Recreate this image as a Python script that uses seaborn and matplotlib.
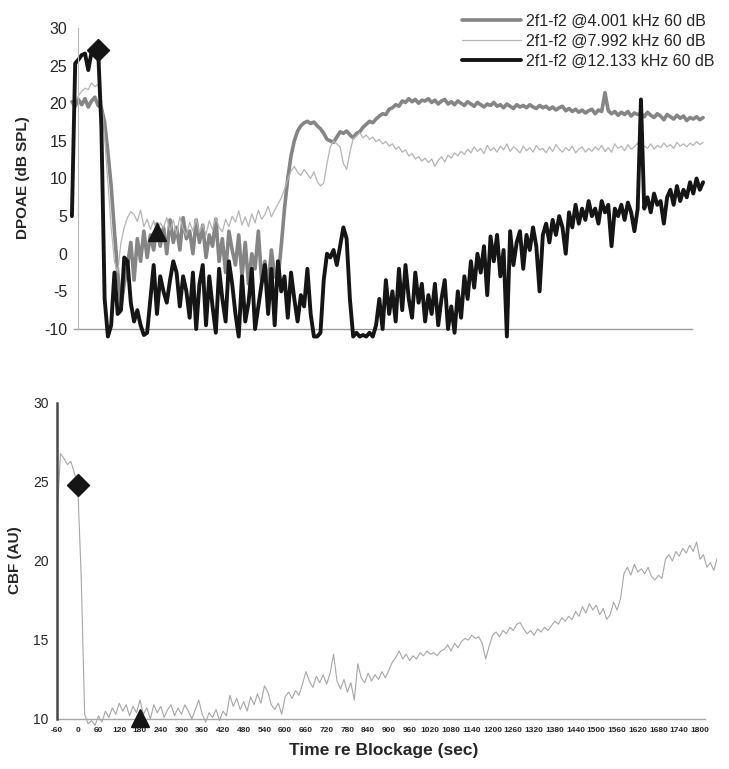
import numpy as np
import pandas as pd
import matplotlib
matplotlib.use("Agg")
import matplotlib.pyplot as plt
import seaborn as sns

# ---------------- data ----------------
# top panel sample times (s re blockage)
t_top = np.arange(-80, 1851, 10)

dp_4k = [
    20.2, 19.6, 20.5, 19.8, 20.6, 19.5, 20.3, 20.8, 19.7, 19.4,
    17.5, 13.5, 9.0, 3.0, -2.5, -7.0, -4.0, -1.5, 1.5, -3.5,
    2.0, -1.0, 3.0, -0.5, 2.5, 0.5, 4.0, 1.0, 3.5, 0.0,
    4.5, 1.5, 3.5, 0.5, 4.8, 2.0, 3.0, 0.0, 4.5, 1.5,
    3.8, -0.5, 2.5, 1.0, 4.6, -1.0, 2.0, -2.5, 3.0, 0.5,
    -1.5, 2.5, -3.0, 1.5, -4.0, 0.0, -2.0, 3.0, -3.5, -1.0,
    -4.5, 0.5, -3.0, -3.5, 1.0, 6.0, 10.0, 13.0, 15.0, 16.3,
    17.0, 17.4, 17.6, 17.3, 17.5, 17.0, 16.6, 16.0, 15.2, 15.0,
    14.8, 15.5, 16.2, 16.0, 16.3, 15.8, 15.4, 16.0, 16.2, 16.8,
    17.2, 17.6, 17.4, 17.9, 18.3, 18.6, 18.5, 19.2, 19.4, 19.8,
    19.6, 20.3, 20.1, 20.6, 20.2, 20.5, 20.0, 20.4, 20.3, 20.6,
    20.1, 20.4, 19.9, 20.3, 20.5, 19.9, 20.2, 19.8, 20.3, 20.0,
    19.7, 20.2, 19.9, 19.6, 20.1, 19.8, 19.5, 19.9, 19.7, 20.1,
    19.6, 19.8, 19.4, 19.9, 19.6, 19.3, 19.8, 19.5, 19.7, 19.4,
    19.8, 19.5, 19.3, 19.7, 19.4, 19.6, 19.2, 19.5, 19.1, 19.4,
    19.6, 19.0, 19.3, 18.9, 19.2, 18.8, 19.1, 18.7, 19.0, 19.2,
    18.6, 19.1, 18.9, 21.4, 19.0, 18.6, 18.9, 18.4, 18.8, 18.5,
    18.9, 18.3, 18.7, 18.5, 18.6, 18.2, 18.8, 18.4, 18.1, 18.6,
    18.3, 17.8, 18.5, 18.2, 17.9, 18.4, 18.0, 18.3, 17.7, 18.1,
    17.9, 18.2, 17.8, 18.1,
]

dp_8k = [
    19.8, 20.3, 21.0, 21.6, 22.0, 21.8, 22.7, 22.2, 22.5, 20.5,
    15.5, 9.5, 3.5, -1.0, -2.5, 1.5, 3.5, 4.8, 5.6, 5.2,
    4.3, 5.8, 3.6, 4.6, 3.2, 4.4, 2.8, 4.1, 3.4, 4.8,
    3.1, 4.5, 2.6, 4.9, 3.3, 2.4, 4.2, 3.0, 4.7, 2.8,
    3.9, 2.5, 4.4, 3.2, 4.8, 3.5, 2.9, 4.6, 3.6, 5.0,
    4.2, 5.7, 3.8, 4.9, 3.6, 5.3, 4.1, 5.8, 4.6, 5.2,
    6.3, 4.9, 5.8, 6.6, 7.4, 8.6, 9.8, 11.0, 11.6, 10.8,
    10.4, 11.2, 10.6, 10.0, 10.9, 9.6, 9.0, 9.4, 12.0, 14.2,
    15.0, 14.6, 14.2, 12.0, 11.2, 13.5, 15.3, 15.6, 16.1, 15.4,
    15.8, 15.2, 15.5, 14.9, 15.2, 14.6, 14.9, 14.3, 14.6, 13.9,
    14.2, 13.5, 13.8, 13.0, 13.3, 12.6, 12.9, 12.3, 12.7, 12.1,
    12.6, 11.6, 12.4, 12.9, 12.2, 13.1, 12.7, 13.4, 13.0, 13.6,
    13.2, 13.9, 13.4, 14.2, 13.6, 14.0, 13.3, 14.4, 13.7, 14.1,
    13.5, 14.3, 13.8, 14.6, 13.6, 14.2, 13.9, 13.4, 14.3, 13.7,
    14.1, 13.5, 14.4, 13.8, 14.0, 13.4, 14.2, 13.6, 14.5, 13.9,
    13.5, 14.1, 13.7, 14.3, 13.4, 13.9, 14.2, 13.5, 14.0, 13.6,
    14.2, 13.8, 14.4, 13.6, 14.1, 13.5, 14.6, 14.0, 14.3, 13.7,
    14.5, 13.9, 14.2, 14.7, 13.8, 14.3, 14.0, 14.6, 13.9, 14.4,
    14.1, 14.7, 14.2, 14.5, 14.0, 14.8, 14.3, 14.6, 14.2, 14.7,
    14.4, 14.9, 14.5, 14.8,
]

dp_12k = [
    5.0, 25.3, 25.8, 26.4, 26.6, 24.4, 26.8, 26.9, 27.2, 17.0,
    -6.0, -11.0, -9.5, -2.5, -8.0, -7.5, -0.5, -1.0, -6.5, -9.0,
    -7.5, -9.5, -10.8, -10.5, -6.0, -1.5, -8.0, -3.0, -5.0, -6.5,
    -3.5, -1.0, -2.5, -7.0, -3.0, -5.0, -8.5, -2.5, -10.0, -4.0,
    -1.5, -9.5, -3.0, -7.0, -10.5, -2.0, -6.0, -9.0, -1.0, -4.0,
    -8.0, -11.0, -3.0, -9.0, -6.5, -2.0, -10.0, -7.0, -4.0, -1.5,
    -8.0, -2.0, -9.5, -1.0, -5.0, -3.0, -8.5, -2.5, -6.0, -9.0,
    -5.5, -7.0, -2.0, -8.0, -11.0, -11.0, -10.5, -3.5, 0.0, -0.5,
    0.5, -1.5, 1.0, 3.5, 2.0, -6.0, -11.0, -10.5, -11.0, -10.8,
    -11.0, -10.5, -11.0, -9.5, -6.0, -10.0, -3.5, -8.0, -5.0, -9.0,
    -2.0, -7.5, -1.5, -6.0, -8.5, -2.5, -6.5, -4.0, -9.0, -5.5,
    -8.0, -4.0, -9.5, -6.0, -3.5, -10.0, -7.0, -10.5, -5.0, -8.5,
    -3.0, -6.0, -1.0, -4.5, 0.0, -2.5, 1.0, -5.5, 2.3, -1.0,
    2.5, -3.0, 0.5, -11.0, 3.0, -1.5, 1.5, 3.0, -2.0, 2.5,
    0.5, 3.5, 1.0, -5.0, 2.5, 4.0, 1.5, 4.5, 2.5, 5.0,
    3.5, 0.0, 5.5, 3.5, 6.5, 4.0, 6.0, 4.5, 7.0, 5.0,
    6.0, 4.0, 7.0, 5.5, 6.5, 1.0, 6.0, 5.0, 6.5, 4.5,
    6.8, 5.5, 3.0, 6.0, 20.5, 6.0, 7.5, 5.5, 8.0, 6.5,
    7.0, 4.0, 7.5, 8.5, 6.5, 9.0, 7.0, 8.5, 7.5, 9.5,
    8.0, 10.0, 8.5, 9.5,
]

# bottom panel sample times and cerebral blood flow
t_cbf = np.arange(-60, 1851, 10)
cbf = [
    22.6, 26.8, 26.5, 26.1, 26.3, 25.6, 24.8, 19.0, 10.3, 9.7,
    9.9, 9.6, 10.2, 9.8, 10.5, 10.1, 10.7, 10.3, 11.0, 10.5,
    10.9, 10.2, 10.8, 10.4, 11.2, 10.3, 10.7, 10.0, 10.9, 10.4,
    10.8, 10.1, 10.6, 10.9, 10.2, 10.7, 10.3, 10.9, 10.5, 10.0,
    10.6, 11.2, 10.3, 9.8, 10.4, 10.1, 10.6, 9.9, 10.5, 10.2,
    11.5, 10.8, 11.3, 10.6, 11.1, 10.5, 11.4, 10.9, 11.6, 11.0,
    12.1, 11.7, 10.9, 10.6, 11.0, 10.3, 11.4, 11.7, 11.3, 11.8,
    11.5, 12.2, 13.0, 12.4, 12.0, 12.7, 12.3, 12.8, 12.2, 12.9,
    14.1, 12.4, 11.9, 12.5, 11.7, 12.3, 11.2, 13.5, 12.6, 12.3,
    12.9, 12.4, 12.8, 12.5, 13.0, 12.6, 13.1, 13.6, 13.9, 14.3,
    13.8, 14.1, 13.7, 14.0, 13.8, 14.2, 14.0, 14.3, 14.1, 14.2,
    14.0, 14.3, 14.4, 14.7, 14.3, 14.8, 14.5, 14.9, 15.1, 15.0,
    15.3, 15.1, 15.2, 14.8, 13.8, 14.6, 15.3, 15.5, 15.2, 15.6,
    15.4, 15.8, 15.6, 16.0, 16.1, 15.7, 15.4, 15.6, 15.3, 15.7,
    15.5, 15.8, 15.6, 15.9, 16.2, 16.0, 16.4, 16.2, 16.5, 16.3,
    16.8, 16.5, 17.1, 16.7, 17.3, 16.9, 17.2, 16.6, 17.0, 16.3,
    16.6, 17.4, 16.9, 17.6, 19.2, 19.6, 19.1, 19.8, 19.3, 19.5,
    19.2, 19.6, 19.0, 18.8, 19.1, 18.9, 20.1, 20.4, 20.0, 20.6,
    20.3, 20.8, 20.5, 21.0, 20.6, 21.2, 20.1, 20.4, 19.6, 19.9,
    19.4, 20.2,
]

series_names = ["2f1-f2 @4.001 kHz 60 dB", "2f1-f2 @7.992 kHz 60 dB",
                "2f1-f2 @12.133 kHz 60 dB"]
series_vals = [dp_4k, dp_8k, dp_12k]
series_colors = ["#858585", "#b4b4b4", "#151515"]
series_widths = [2.6, 0.9, 2.8]

marker_times = [0, 180]          # diamond = blockage, triangle = +180 s
dp_marker_vals = [27.1, 2.9]
cbf_marker_vals = [24.8, 10.05]

x_ticks = list(range(-60, 1801, 60))
dp_yticks = [-10, -5, 0, 5, 10, 15, 20, 25, 30]
cbf_yticks = [10, 15, 20, 25, 30]

# ---------------- figure ----------------
sns.set_style("white")
plt.rcParams['font.family'] = ['Liberation Sans', 'DejaVu Sans']

W, H = 729, 769
fig = plt.figure(figsize=(W / 100, H / 100), dpi=100)

def fx(px):
    return px / W

def fy(py):
    return 1 - py / H

# ---- top panel ----
ax1 = fig.add_axes([fx(68), fy(340.3), fx(640), 316.1 / H])
top_df = pd.DataFrame({"t": t_top})
for name, vals, col, lw in zip(series_names, series_vals, series_colors, series_widths):
    top_df[name] = vals
    sns.lineplot(data=top_df, x="t", y=name, ax=ax1, color=col, linewidth=lw,
                 estimator=None, sort=False, legend=False, label=name)
ax1.plot(marker_times[0], dp_marker_vals[0], marker="D", color="#151515",
         markersize=11.5, zorder=5)
ax1.plot(marker_times[1], dp_marker_vals[1], marker="^", color="#151515",
         markersize=12.5, zorder=5)
ax1.set_xlim(-92, 1865)
ax1.set_ylim(-11.5, 30.5)
ax1.set_xlabel("")
ax1.set_ylabel("")
for s in ["top", "right"]:
    ax1.spines[s].set_visible(False)
ax1.spines["left"].set_position(("data", -60))
ax1.spines["left"].set_bounds(-10, 30)
ax1.spines["left"].set_color("#b8b8b8")
ax1.spines["left"].set_linewidth(0.8)
ax1.spines["bottom"].set_position(("data", -10))
ax1.spines["bottom"].set_bounds(-73, 1816)
ax1.spines["bottom"].set_color("#9a9a9a")
ax1.spines["bottom"].set_linewidth(1.0)
ax1.spines["bottom"].set_zorder(0.5)
ax1.set_yticks(dp_yticks)
ax1.set_yticklabels([str(v) for v in dp_yticks], fontsize=11.5)
ax1.set_xticks(x_ticks)
ax1.set_xticklabels([])
ax1.tick_params(axis="y", direction="out", length=3, width=0.8, color="#a0a0a0", pad=5)
ax1.tick_params(axis="x", direction="in", length=3, width=0.8, color="#a0a0a0")

handles = ax1.get_lines()[:3]
ax1.legend(handles, series_names, loc="upper left",
           bbox_to_anchor=(fx(462), fy(14)), bbox_transform=fig.transFigure,
           frameon=False, fontsize=11.5, handlelength=3.7, handletextpad=0.3,
           labelspacing=0.31, borderpad=0, borderaxespad=0)

fig.text(fx(23), fy(178), "DPOAE (dB SPL)", rotation=90, ha="center", va="center",
         fontsize=11, fontweight="bold")

# ---- bottom panel ----
ax2 = fig.add_axes([fx(57), fy(726.9), fx(660.3), 327.1 / H])
cbf_df = pd.DataFrame({"t": t_cbf, "cbf": cbf})
sns.lineplot(data=cbf_df, x="t", y="cbf", ax=ax2, color="#a6a6a6", linewidth=0.8,
             estimator=None, sort=False, legend=False)
ax2.plot(marker_times[0], cbf_marker_vals[0], marker="D", color="#151515",
         markersize=11, zorder=5, clip_on=False)
ax2.plot(marker_times[1], cbf_marker_vals[1], marker="^", color="#151515",
         markersize=13.5, zorder=5, clip_on=False)
ax2.set_xlim(-60, 1850)
ax2.set_ylim(9.5, 30.2)
ax2.set_xlabel("")
ax2.set_ylabel("")
for s in ["top", "right"]:
    ax2.spines[s].set_visible(False)
ax2.spines["left"].set_bounds(10, 30)
ax2.spines["left"].set_color("#4a4a4a")
ax2.spines["left"].set_linewidth(1.8)
ax2.spines["bottom"].set_position(("data", 10))
ax2.spines["bottom"].set_bounds(-60, 1815)
ax2.spines["bottom"].set_color("#a8a8a8")
ax2.spines["bottom"].set_linewidth(1.0)
ax2.spines["bottom"].set_zorder(0.5)
ax2.set_yticks(cbf_yticks)
ax2.set_yticklabels([str(v) for v in cbf_yticks], fontsize=10)
ax2.set_xticks(x_ticks)
ax2.set_xticklabels([str(v) for v in x_ticks], fontsize=6, fontweight="bold")
ax2.tick_params(axis="y", direction="out", length=3, width=0.8, color="#666666", pad=3)
ax2.tick_params(axis="x", direction="in", length=3, width=0.8, color="#a0a0a0", pad=6)

fig.text(fx(384), fy(750), "Time re Blockage (sec)", ha="center", va="center",
         fontsize=12.5, fontweight="bold")
fig.text(fx(15), fy(560), "CBF (AU)", rotation=90, ha="center", va="center",
         fontsize=11, fontweight="bold")

fig.savefig("out.png", dpi=100)
